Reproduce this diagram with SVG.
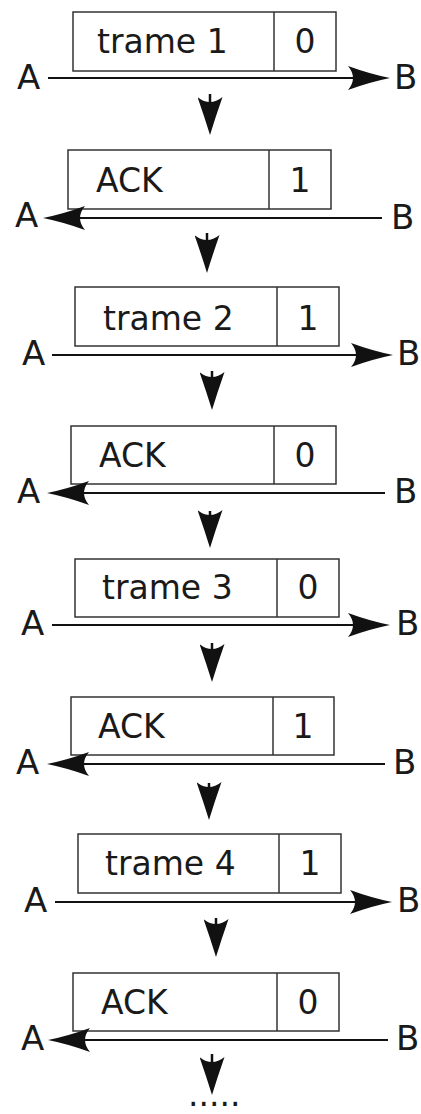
<svg xmlns="http://www.w3.org/2000/svg" width="421" height="1114" viewBox="0 0 421 1114">
<style>
.box{fill:#fff;stroke:#333;stroke-width:1.5}
.div{stroke:#333;stroke-width:1.5}
.lbl{font-family:"DejaVu Sans",sans-serif;font-size:33px;fill:#1a1a1a}
.end{font-family:"DejaVu Sans",sans-serif;font-size:34px;fill:#1a1a1a}
.ln{stroke:#111;stroke-width:2.2;fill:none}
.dn{stroke:#111;stroke-width:2.5;fill:none}
</style>
<defs>
<marker id="h" markerUnits="userSpaceOnUse" viewBox="0 0 42 24" markerWidth="42" markerHeight="24" refX="8" refY="12" orient="auto">
<path d="M42,12 Q22,8 0,0 Q10,12 0,24 Q22,16 42,12 Z" fill="#111"/>
</marker>
<marker id="v" markerUnits="userSpaceOnUse" viewBox="0 0 38 25" markerWidth="38" markerHeight="25" refX="8" refY="12.5" orient="auto">
<path d="M38,12.5 Q20,7 0,0 Q10,12.5 0,25 Q20,18 38,12.5 Z" fill="#111"/>
</marker>
</defs>
<g id="frame1">
<rect class="box" x="73" y="12" width="263" height="59"/><line class="div" x1="274" y1="12" x2="274" y2="71"/>
<text class="lbl" x="97" y="53">trame 1</text><text class="lbl" x="305" y="53" text-anchor="middle">0</text>
<text class="end" x="17" y="89">A</text><text class="end" x="394" y="89">B</text>
</g>
<g id="ack1">
<rect class="box" x="68" y="150" width="263" height="59"/><line class="div" x1="269" y1="150" x2="269" y2="209"/>
<text class="lbl" x="96" y="192">ACK</text><text class="lbl" x="300" y="192" text-anchor="middle">1</text>
<text class="end" x="15" y="227">A</text><text class="end" x="391" y="229">B</text>
</g>
<g id="frame2">
<rect class="box" x="75" y="287" width="264" height="59"/><line class="div" x1="277" y1="287" x2="277" y2="346"/>
<text class="lbl" x="103" y="330">trame 2</text><text class="lbl" x="308" y="330" text-anchor="middle">1</text>
<text class="end" x="22" y="365">A</text><text class="end" x="397" y="365">B</text>
</g>
<g id="ack2">
<rect class="box" x="71" y="426" width="265" height="58"/><line class="div" x1="274" y1="426" x2="274" y2="484"/>
<text class="lbl" x="99" y="467">ACK</text><text class="lbl" x="305" y="467" text-anchor="middle">0</text>
<text class="end" x="17" y="503">A</text><text class="end" x="394" y="503">B</text>
</g>
<g id="frame3">
<rect class="box" x="75" y="559" width="264" height="58"/><line class="div" x1="277" y1="559" x2="277" y2="617"/>
<text class="lbl" x="102" y="599">trame 3</text><text class="lbl" x="308" y="599" text-anchor="middle">0</text>
<text class="end" x="21" y="635">A</text><text class="end" x="396" y="635">B</text>
</g>
<g id="ack3">
<rect class="box" x="71" y="697" width="263" height="58"/><line class="div" x1="273" y1="697" x2="273" y2="755"/>
<text class="lbl" x="98" y="738">ACK</text><text class="lbl" x="303" y="738" text-anchor="middle">1</text>
<text class="end" x="16" y="774">A</text><text class="end" x="393" y="774">B</text>
</g>
<g id="frame4">
<rect class="box" x="78" y="834" width="263" height="59"/><line class="div" x1="279" y1="834" x2="279" y2="893"/>
<text class="lbl" x="105" y="875">trame 4</text><text class="lbl" x="310" y="875" text-anchor="middle">1</text>
<text class="end" x="24" y="912">A</text><text class="end" x="397" y="912">B</text>
</g>
<g id="ack4">
<rect class="box" x="73" y="973" width="266" height="58"/><line class="div" x1="277" y1="973" x2="277" y2="1031"/>
<text class="lbl" x="101" y="1014">ACK</text><text class="lbl" x="308" y="1014" text-anchor="middle">0</text>
<text class="end" x="21" y="1050">A</text><text class="end" x="396" y="1050">B</text>
</g>
<g id="connectors">
<line class="ln" x1="48" y1="78" x2="356" y2="78" marker-end="url(#h)"/>
<line class="ln" x1="382" y1="218" x2="77" y2="218" marker-end="url(#h)"/>
<line class="ln" x1="52" y1="355" x2="359" y2="355" marker-end="url(#h)"/>
<line class="ln" x1="385" y1="493" x2="81" y2="493" marker-end="url(#h)"/>
<line class="ln" x1="52" y1="625" x2="356" y2="625" marker-end="url(#h)"/>
<line class="ln" x1="385" y1="764" x2="81" y2="764" marker-end="url(#h)"/>
<line class="ln" x1="55" y1="902" x2="358" y2="902" marker-end="url(#h)"/>
<line class="ln" x1="388" y1="1040" x2="82" y2="1040" marker-end="url(#h)"/>
<line class="dn" x1="210" y1="94" x2="210" y2="105" marker-end="url(#v)"/>
<line class="dn" x1="207" y1="233" x2="207" y2="243" marker-end="url(#v)"/>
<line class="dn" x1="212" y1="371" x2="212" y2="380" marker-end="url(#v)"/>
<line class="dn" x1="210" y1="511" x2="210" y2="518" marker-end="url(#v)"/>
<line class="dn" x1="212" y1="643" x2="212" y2="652" marker-end="url(#v)"/>
<line class="dn" x1="209" y1="783" x2="209" y2="790" marker-end="url(#v)"/>
<line class="dn" x1="216" y1="918" x2="216" y2="927" marker-end="url(#v)"/>
<line class="dn" x1="212" y1="1054" x2="212" y2="1065" marker-end="url(#v)"/>
</g>
<text class="lbl" x="188" y="1106" font-size="28">.....</text>
</svg>
